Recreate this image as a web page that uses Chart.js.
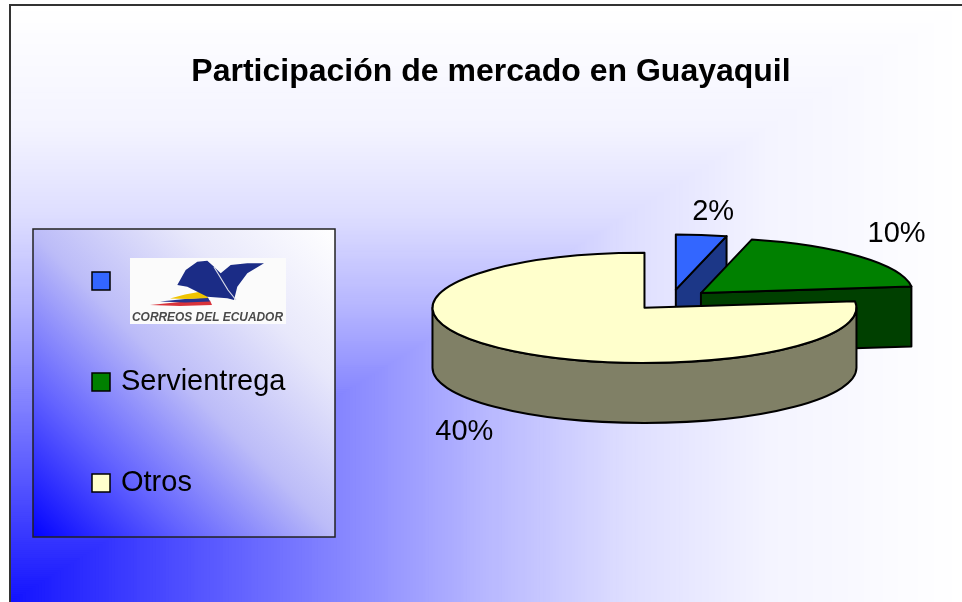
<!DOCTYPE html>
<html>
<head>
<meta charset="utf-8">
<script src="https://cdn.jsdelivr.net/npm/chart.js@4/dist/chart.umd.min.js"></script>
<style>
html, body { margin: 0; padding: 0; background: #fff; }
#wrap { width: 962px; height: 602px; position: relative; }
</style>
</head>
<body>
<div id="wrap"><canvas id="chart_marketShareGuayaquil"></canvas></div>
<script>
var categories = ['Correos del Ecuador', 'Servientrega', 'Otros'];
var shareValues = [0.02, 0.10, 0.40];
var topColors = ['#3366ff', '#008000', '#ffffcc'];
var sideColors = ['#1c3787', '#004000', '#808066'];

var FONT = "'Liberation Sans', Arial, sans-serif";

function percentText(v) {
    return Math.round(v * 100) + '%';
}

function shadeAt(stops, d) {
    for (var i = 1; i < stops.length; i++) {
        if (d <= stops[i][0]) {
            var a = stops[i - 1], b = stops[i];
            var t = (d - a[0]) / (b[0] - a[0]);
            var v = Math.round(a[1] + (b[1] - a[1]) * t);
            return 'rgb(' + v + ',' + v + ',255)';
        }
    }
    return '#ffffff';
}

// corner gradient behind everything + frame lines
var backgroundPlugin = {
    id: 'backgroundPlugin',
    beforeDraw: function(chart, args, o) {
        var ctx = chart.ctx, w = chart.width, h = chart.height;
        ctx.save();
        ctx.fillStyle = '#ffffff';
        ctx.fillRect(0, 0, w, h);
        var W = w - o.left, H = h - o.top;
        for (var s = 300; s >= 1; s--) {
            var d = s / 300;
            ctx.fillStyle = shadeAt(o.stops, d);
            ctx.fillRect(o.left, h - H * d, W * d, H * d);
        }
        ctx.strokeStyle = '#333333';
        ctx.lineWidth = 2;
        ctx.beginPath();
        ctx.moveTo(o.left, h);
        ctx.lineTo(o.left, o.top);
        ctx.lineTo(w, o.top);
        ctx.stroke();
        ctx.restore();
    }
};

function sliceGeometry(arc, o) {
    var m = (arc.startAngle + arc.endAngle) / 2;
    return {
        m: m,
        px: o.cx + Math.cos(m) * o.explode,
        py: o.cy + Math.sin(m) * o.explode * o.tilt,
        r: arc.outerRadius,
        ry: arc.outerRadius * o.tilt
    };
}

// flattened, extruded and exploded pie built on the library's arc elements
var pie3d = {
    id: 'pie3d',
    beforeDatasetsDraw: function(chart, args, o) {
        var ctx = chart.ctx;
        var arcs = chart.getDatasetMeta(0).data;
        var sides = chart.data.datasets[0].sideColor;
        var order = arcs.map(function(a, i) { return i; });
        order.sort(function(i, j) {
            return Math.sin(sliceGeometry(arcs[i], o).m) - Math.sin(sliceGeometry(arcs[j], o).m);
        });
        order.forEach(function(i) {
            var a = arcs[i];
            var g = sliceGeometry(a, o);
            ctx.save();
            ctx.fillStyle = sides[i];
            ctx.strokeStyle = '#000000';
            ctx.lineWidth = o.lineWidth;
            ctx.lineJoin = 'round';
            // outer wall, front half only
            for (var sh = -2; sh <= 2; sh++) {
                var lo = Math.max(a.startAngle, sh * 2 * Math.PI);
                var hi = Math.min(a.endAngle, sh * 2 * Math.PI + Math.PI);
                if (hi > lo) {
                    ctx.beginPath();
                    ctx.ellipse(g.px, g.py, g.r, g.ry, 0, lo, hi);
                    ctx.lineTo(g.px + g.r * Math.cos(hi), g.py + g.ry * Math.sin(hi) + o.depth);
                    ctx.ellipse(g.px, g.py + o.depth, g.r, g.ry, 0, hi, lo, true);
                    ctx.closePath();
                    ctx.fill();
                    ctx.stroke();
                }
            }
            // radial cut faces that face the viewer
            var faces = [];
            if (Math.cos(a.endAngle) > 0.001) faces.push(a.endAngle);
            if (Math.cos(a.startAngle) < -0.001) faces.push(a.startAngle);
            faces.forEach(function(t) {
                var ex = g.px + g.r * Math.cos(t), ey = g.py + g.ry * Math.sin(t);
                ctx.beginPath();
                ctx.moveTo(g.px, g.py);
                ctx.lineTo(ex, ey);
                ctx.lineTo(ex, ey + o.depth);
                ctx.lineTo(g.px, g.py + o.depth);
                ctx.closePath();
                ctx.fill();
                ctx.stroke();
            });
            ctx.restore();

            // top face drawn by the arc element itself, squashed
            ctx.save();
            ctx.translate(g.px, g.py);
            ctx.scale(1, o.tilt);
            ctx.translate(-a.x, -a.y);
            a.draw(ctx);
            ctx.restore();

            ctx.save();
            ctx.strokeStyle = '#000000';
            ctx.lineWidth = o.lineWidth;
            ctx.lineJoin = 'round';
            ctx.beginPath();
            ctx.moveTo(g.px, g.py);
            ctx.ellipse(g.px, g.py, g.r, g.ry, 0, a.startAngle, a.endAngle);
            ctx.closePath();
            ctx.stroke();
            ctx.restore();
        });
        return false;
    },
    afterDraw: function(chart, args, o) {
        var ctx = chart.ctx;
        var arcs = chart.getDatasetMeta(0).data;
        var values = chart.data.datasets[0].data;
        ctx.save();
        ctx.fillStyle = '#000000';
        ctx.font = o.labelSize + 'px ' + FONT;
        ctx.textAlign = 'center';
        ctx.textBaseline = 'middle';
        arcs.forEach(function(a, i) {
            var g = sliceGeometry(a, o);
            var c = Math.cos(g.m), s = Math.sin(g.m);
            var rx = g.px + g.r * c;
            var ry = g.py + g.ry * s + (s > 0 ? o.depth : 0);
            var lx = rx + c * o.labelGap + (c >= 0 ? 7 : -13);
            var ly = ry + (s > 0 ? o.labelRise : -o.labelRise);
            ctx.fillText(percentText(values[i]), lx, ly);
        });
        ctx.restore();
    }
};

function drawLogo(ctx, r, text) {
    ctx.save();
    ctx.fillStyle = '#fbfbfb';
    ctx.fillRect(r.x, r.y, r.w, r.h);
    var sx = r.w / 156, sy = r.h / 66;
    function poly(pts, color) {
        ctx.beginPath();
        pts.forEach(function(p, j) {
            var X = r.x + p[0] * sx, Y = r.y + p[1] * sy;
            if (j) ctx.lineTo(X, Y); else ctx.moveTo(X, Y);
        });
        ctx.closePath();
        ctx.fillStyle = color;
        ctx.fill();
    }
    poly([[20, 47], [50, 44], [80, 42.5], [82, 47], [50, 48]], '#d8323a');
    poly([[30, 43.5], [55, 41], [78, 39.5], [80, 43.5], [55, 44.5]], '#27338f');
    poly([[40, 40.5], [55, 36.5], [74, 33], [78, 40], [58, 41]], '#f0c400');
    // bird
    poly([[47.3, 27], [55.7, 12], [67.3, 3.7], [77.3, 2.7], [84, 8.7], [90.7, 15.3], [100.7, 7],
          [117.3, 5.3], [134, 5.3], [117.3, 15.3], [107.3, 28.7], [104, 42], [97.3, 40.3],
          [77.3, 38.7], [67.3, 33.7], [57.3, 28.7]], '#1b2c86');
    ctx.strokeStyle = '#d8dbe8';
    ctx.lineWidth = 1.2;
    ctx.beginPath();
    ctx.moveTo(r.x + 84 * sx, r.y + 9 * sy);
    ctx.lineTo(r.x + 98 * sx, r.y + 32 * sy);
    ctx.lineTo(r.x + 106 * sx, r.y + 42 * sy);
    ctx.stroke();
    ctx.fillStyle = '#4a4a4a';
    ctx.font = 'italic bold 13px ' + FONT;
    ctx.textBaseline = 'alphabetic';
    ctx.textAlign = 'left';
    ctx.fillText(text.toUpperCase(), r.x + 2, r.y + 63, r.w - 5);
    ctx.restore();
}

var legendBox = {
    id: 'legendBox',
    afterDraw: function(chart, args, o) {
        var ctx = chart.ctx, b = o.box;
        var ds = chart.data.datasets[0];
        ctx.save();
        var ang = o.gradientAngle * Math.PI / 180;
        var L = b.w * Math.cos(ang) + b.h * Math.sin(ang);
        var grad = ctx.createLinearGradient(b.x, b.y + b.h,
            b.x + L * Math.cos(ang), b.y + b.h - L * Math.sin(ang));
        o.stops.forEach(function(st) { grad.addColorStop(st[0], st[1]); });
        ctx.fillStyle = grad;
        ctx.fillRect(b.x, b.y, b.w, b.h);
        ctx.strokeStyle = '#222222';
        ctx.lineWidth = 1.5;
        ctx.strokeRect(b.x, b.y, b.w, b.h);

        chart.data.labels.forEach(function(label, i) {
            var y = o.firstY + i * o.rowGap;
            ctx.fillStyle = ds.backgroundColor[i];
            ctx.fillRect(o.markerX, y - o.markerSize / 2, o.markerSize, o.markerSize);
            ctx.strokeStyle = '#000000';
            ctx.lineWidth = 1.5;
            ctx.strokeRect(o.markerX, y - o.markerSize / 2, o.markerSize, o.markerSize);
            if (i === o.logoIndex) {
                drawLogo(ctx, o.logo, label);
            } else {
                ctx.fillStyle = '#000000';
                ctx.font = o.textSize + 'px ' + FONT;
                ctx.textAlign = 'left';
                ctx.textBaseline = 'middle';
                ctx.fillText(label, o.textX, y);
            }
        });
        ctx.restore();
    }
};

var chart_marketShareGuayaquil = new Chart(document.getElementById('chart_marketShareGuayaquil'), {
    type: 'pie',
    data: {
        labels: categories,
        datasets: [{
            data: shareValues,
            backgroundColor: topColors,
            sideColor: sideColors,
            borderWidth: 0,
            radius: 212,
            clip: false
        }]
    },
    options: {
        animation: false,
        responsive: true,
        maintainAspectRatio: false,
        events: [],
        layout: {
            padding: { left: 20, top: 5 }
        },
        plugins: {
            legend: { display: false },
            tooltip: { enabled: false },
            title: {
                display: true,
                text: 'Participación de mercado en Guayaquil',
                color: '#000000',
                font: { family: FONT, size: 32, weight: 'bold', lineHeight: 1.2 },
                padding: { top: 48, bottom: 20 }
            },
            backgroundPlugin: {
                left: 10,
                top: 5,
                stops: [[0, 18], [0.3, 118], [0.5, 183], [0.65, 222], [0.8, 244], [1, 255]]
            },
            pie3d: {
                cx: 671,
                cy: 300,
                tilt: 0.26,
                depth: 60,
                explode: 40,
                lineWidth: 2,
                labelSize: 29,
                labelGap: 40,
                labelRise: 23
            },
            legendBox: {
                box: { x: 33, y: 229, w: 302, h: 308 },
                gradientAngle: 45,
                stops: [[0, '#0202ff'], [0.25, '#6262ff'], [0.5, '#bcbcf8'], [0.75, '#e8e8fb'], [1, '#ffffff']],
                firstY: 281,
                rowGap: 101,
                markerX: 92,
                markerSize: 18,
                textX: 121,
                textSize: 29,
                logoIndex: 0,
                logo: { x: 130, y: 258, w: 156, h: 66 }
            }
        }
    },
    plugins: [backgroundPlugin, pie3d, legendBox]
});
</script>
</body>
</html>
